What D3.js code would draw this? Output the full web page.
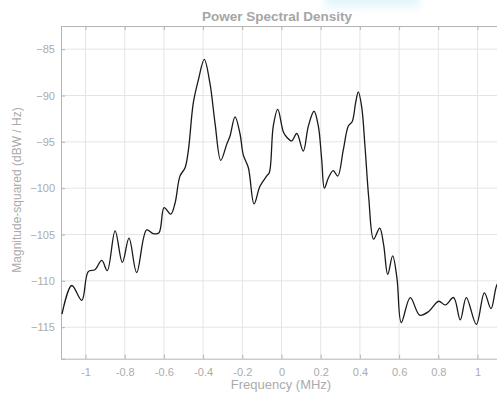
<!DOCTYPE html>
<html>
<head>
<meta charset="utf-8">
<script src="https://cdn.jsdelivr.net/npm/d3@7/dist/d3.min.js"></script>
<style>
  html, body { margin: 0; padding: 0; background: #fff; overflow: hidden; }
  svg { display: block; font-family: "Liberation Sans", Arial, sans-serif; }
</style>
</head>
<body>
<svg id="chart" width="497" height="398"></svg>
<script>
// frequency (MHz) and PSD (dBW/Hz)
const freq = [-1.120, -1.070, -1.019, -0.986, -0.952, -0.917, -0.889, -0.849, -0.812, -0.778,
  -0.739, -0.688, -0.654, -0.625, -0.599, -0.565, -0.543, -0.518, -0.492, -0.475,
  -0.450, -0.424, -0.394, -0.365, -0.339, -0.310, -0.280, -0.263, -0.237, -0.212,
  -0.195, -0.169, -0.140, -0.110, -0.076, -0.062, -0.042, -0.019, 0.009, 0.027,
  0.052, 0.078, 0.111, 0.137, 0.166, 0.188, 0.205, 0.219, 0.239, 0.264,
  0.287, 0.315, 0.341, 0.361, 0.378, 0.392, 0.409, 0.426, 0.445, 0.470,
  0.501, 0.521, 0.542, 0.567, 0.589, 0.611, 0.657, 0.705, 0.751, 0.802,
  0.836, 0.878, 0.912, 0.943, 0.994, 1.035, 1.069, 1.096, 1.120];
const psd = [-113.6, -110.5, -112.1, -109.0, -108.8, -107.8, -108.9, -104.6, -108.0, -105.4,
  -109.1, -104.5, -104.9, -104.8, -102.1, -102.8, -101.6, -98.7, -97.8, -95.9,
  -90.8, -88.3, -86.1, -88.7, -93.0, -97.0, -95.3, -94.4, -92.3, -94.1,
  -96.4, -97.8, -101.7, -99.8, -98.7, -98.3, -93.3, -91.5, -93.9, -94.5,
  -94.9, -94.1, -96.0, -93.3, -91.7, -93.3, -96.9, -100.0, -98.9, -98.1,
  -98.7, -95.9, -93.3, -92.8, -90.8, -89.6, -91.2, -95.5, -101.0, -105.5,
  -104.3, -106.1, -109.3, -107.3, -109.7, -114.5, -111.8, -113.7, -113.3, -112.2,
  -112.6, -111.8, -114.2, -111.8, -114.7, -111.3, -113.0, -110.6, -109.6];

const xTicks = [-1, -0.8, -0.6, -0.4, -0.2, 0, 0.2, 0.4, 0.6, 0.8, 1];
const yTicks = [-115, -110, -105, -100, -95, -90, -85];
const xDomain = [-1.125, 1.125];
const yDomain = [-118.4, -82.5];

const svg = d3.select("#chart");
const plotL = 61, plotR = 502, plotT = 26, plotB = 358.7;

const x = d3.scaleLinear().domain(xDomain).range([plotL, plotR]);
const y = d3.scaleLinear().domain(yDomain).range([plotB, plotT]);

// faint blue smudge at the top edge
const defs = svg.append("defs");
defs.append("filter").attr("id", "soft")
  .attr("x", "-50%").attr("y", "-50%").attr("width", "200%").attr("height", "200%")
  .append("feGaussianBlur").attr("stdDeviation", 4);
svg.append("rect").attr("x", 325).attr("y", -8).attr("width", 95).attr("height", 15)
  .attr("fill", "#e3f5fb").attr("filter", "url(#soft)");

// grid
const grid = svg.append("g").attr("class", "grid");
grid.selectAll("line.gx").data(xTicks).enter().append("line")
  .attr("x1", d => x(d)).attr("x2", d => x(d))
  .attr("y1", plotT).attr("y2", plotB)
  .attr("stroke", "#e4e4e4").attr("stroke-width", 1);
grid.selectAll("line.gy").data(yTicks).enter().append("line")
  .attr("x1", plotL).attr("x2", plotR)
  .attr("y1", d => y(d)).attr("y2", d => y(d))
  .attr("stroke", "#e4e4e4").attr("stroke-width", 1);

// axes, ticks pointing inward
const fmt = d => String(+d.toFixed(1));
const xAxis = svg.append("g").attr("transform", "translate(0," + plotB + ")")
  .call(d3.axisBottom(x).tickValues(xTicks).tickSize(-4).tickPadding(10).tickFormat(fmt));
const xTop = svg.append("g").attr("transform", "translate(0," + plotT + ")")
  .call(d3.axisTop(x).tickValues(xTicks).tickSize(-4).tickFormat(""));
const yAxis = svg.append("g").attr("transform", "translate(" + plotL + ",0)")
  .call(d3.axisLeft(y).tickValues(yTicks).tickSize(-4).tickPadding(6));

[xAxis, xTop, yAxis].forEach(g => {
  g.select(".domain").attr("stroke", "#b4b4b4");
  g.selectAll(".tick line").attr("stroke", "#b4b4b4");
  g.selectAll(".tick text").attr("fill", "#ababab")
    .style("font-size", "11px").style("font-family", "Liberation Sans, Arial, sans-serif");
});

// PSD trace
const pts = freq.map((f, i) => [f, psd[i]]);
svg.append("path")
  .datum(pts)
  .attr("fill", "none")
  .attr("stroke", "#1a1a1a")
  .attr("stroke-width", 1.3)
  .attr("d", d3.line().x(d => x(d[0])).y(d => y(d[1])).curve(d3.curveCatmullRom.alpha(0.5)));

// labels
svg.append("text")
  .attr("x", 277).attr("y", 21)
  .attr("text-anchor", "middle")
  .attr("fill", "#a6a6a6")
  .style("font-size", "13.5px").style("font-weight", "bold")
  .text("Power Spectral Density");

svg.append("text")
  .attr("x", 281).attr("y", 389)
  .attr("text-anchor", "middle")
  .attr("fill", "#ababab")
  .style("font-size", "13px")
  .text("Frequency (MHz)");

svg.append("text")
  .attr("transform", "translate(21,190) rotate(-90)")
  .attr("text-anchor", "middle")
  .attr("fill", "#ababab")
  .style("font-size", "12px")
  .text("Magnitude-squared (dBW / Hz)");
</script>
</body>
</html>
